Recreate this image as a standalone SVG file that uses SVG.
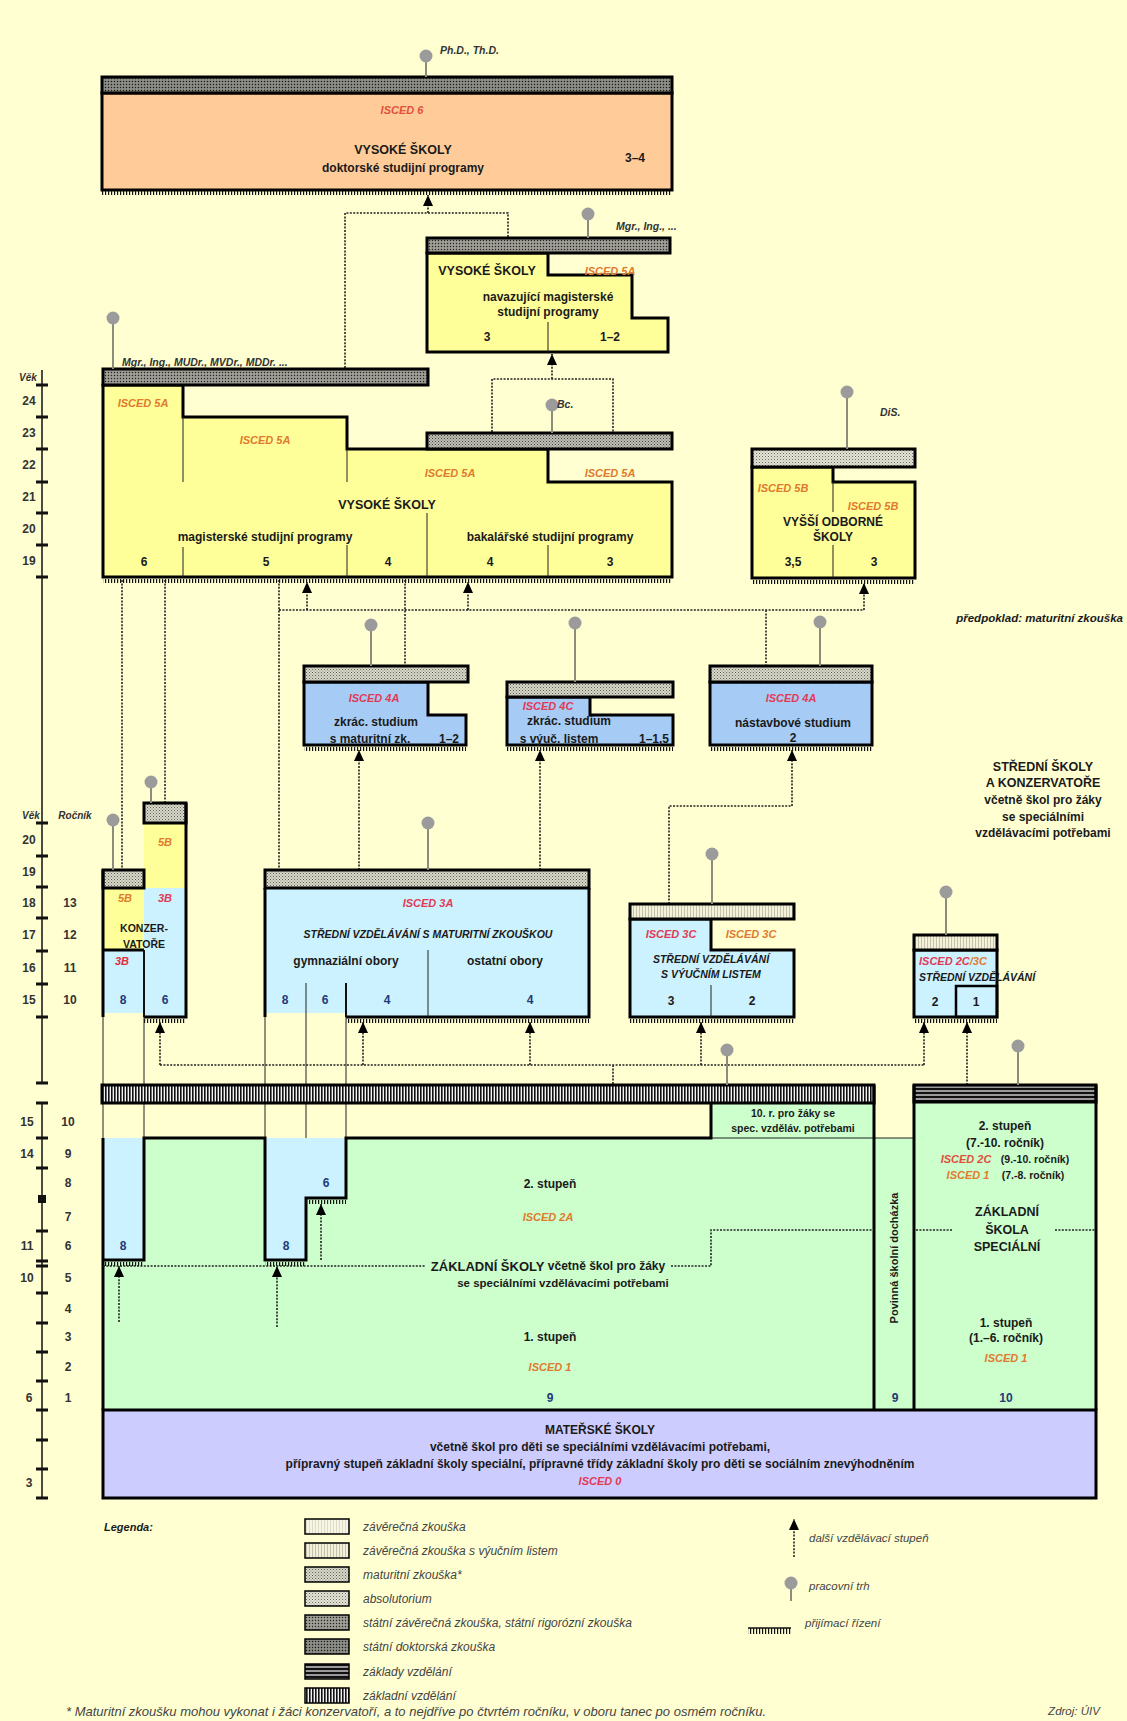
<svg xmlns="http://www.w3.org/2000/svg" width="1127" height="1721" viewBox="0 0 1127 1721">
<defs>
<style>
text{font-family:"Liberation Sans",Arial,sans-serif;font-weight:bold;fill:#1a1a1a;text-anchor:middle;dominant-baseline:central}
.h{font-size:12.5px}
.m{font-size:12px}
.s{font-size:10.5px}
.n{font-size:12px}
.nb{font-size:12px;fill:#1e3a78}
.io{font-size:11px;font-style:italic;fill:#e07a2e}
.ir{font-size:11px;font-style:italic;fill:#e23a55}
.it{font-style:italic}
.deg{font-size:10.5px;font-style:italic;fill:#333;text-anchor:start}
.ax{font-size:12px;fill:#333}
.axl{font-size:10px;font-style:italic;fill:#333}
.leg{font-size:12px;font-style:italic;font-weight:normal;fill:#444;text-anchor:start}
.legr{font-size:11.5px;font-style:italic;font-weight:normal;fill:#444;text-anchor:start}
.bx{stroke:#000;stroke-width:3}
.ol{fill:none;stroke:#000;stroke-width:3}
.th{fill:none;stroke:#222;stroke-width:1}
.md{fill:none;stroke:#111;stroke-width:2}
.dt{fill:none;stroke:#222;stroke-width:1.6;stroke-dasharray:2 1.4}
.ar{fill:none;stroke:#222;stroke-width:1.6;stroke-dasharray:2 1.4;marker-end:url(#arr)}
.stem{stroke:#8c8c7c;stroke-width:2}
.pin{fill:#9b9b9b}
.yl{fill:#ffff99}
.cy{fill:#ccf2ff}
.bl{fill:#a6ccf5}
.gr{fill:#ccffcc}
</style>
<marker id="arr" viewBox="0 0 11 10" refX="11" refY="5" markerWidth="11" markerHeight="10" markerUnits="userSpaceOnUse" orient="auto"><path d="M0,0 L11,5 L0,10 z" fill="#000"/></marker>
<pattern id="pMat" width="3" height="3" patternUnits="userSpaceOnUse"><rect width="3" height="3" fill="#d9d9ca"/><rect width="1" height="1" fill="#5f5f55"/><rect x="1.5" y="1.5" width="1" height="1" fill="#7d7d72"/></pattern>
<pattern id="pAbs" width="3" height="3" patternUnits="userSpaceOnUse"><rect width="3" height="3" fill="#e4e4d6"/><rect width="1" height="1" fill="#6a6a60"/><rect x="1.5" y="1.5" width="1" height="1" fill="#9a9a8e"/></pattern>
<pattern id="pBak" width="3" height="3" patternUnits="userSpaceOnUse"><rect width="3" height="3" fill="#bdbdb2"/><rect width="1" height="1" fill="#444"/><rect x="1.5" y="1.5" width="1" height="1" fill="#666"/></pattern>
<pattern id="pSzz" width="3" height="3" patternUnits="userSpaceOnUse"><rect width="3" height="3" fill="#8d8d86"/><rect width="1" height="1" fill="#222"/><rect x="1.5" y="1.5" width="1" height="1" fill="#d2d2ca"/></pattern>
<pattern id="pDok" width="3" height="3" patternUnits="userSpaceOnUse"><rect width="3" height="3" fill="#7c7c76"/><rect width="1" height="1" fill="#1a1a1a"/><rect x="1.5" y="1.5" width="1" height="1" fill="#c4c4bc"/></pattern>
<pattern id="pVyuc" width="3" height="3" patternUnits="userSpaceOnUse"><rect width="3" height="3" fill="#f3f1da"/><rect width="1" height="3" fill="#c4c2aa"/></pattern>
<pattern id="pZav" width="3" height="3" patternUnits="userSpaceOnUse"><rect width="3" height="3" fill="#f7f6e4"/><rect width="1" height="3" fill="#dedcc6"/></pattern>
<pattern id="pZV" width="3" height="3" patternUnits="userSpaceOnUse"><rect width="3" height="3" fill="#f2f2f2"/><rect width="1.6" height="3" fill="#111"/></pattern>
<pattern id="pZS" width="4" height="4" patternUnits="userSpaceOnUse"><rect width="4" height="4" fill="#9a9a9a"/><rect width="4" height="2" fill="#111"/></pattern>
<pattern id="pComb" width="3" height="5" patternUnits="userSpaceOnUse"><rect width="1.2" height="5" fill="#111"/></pattern>
</defs>

<rect width="1127" height="1721" fill="#ffffd2"/>

<g id="axis">
<path d="M42,370 V1083 M42,1103 V1498" stroke="#111" stroke-width="1.5" fill="none"/>
<path d="M36,385 H48 M36,417 H48 M36,449 H48 M36,482 H48 M36,513 H48 M36,545 H48 M36,577 H48 M36,823 H48 M36,856 H48 M36,887 H48 M36,918 H48 M36,951 H48 M36,984 H48 M36,1017 H48 M36,1083 H48 M36,1103 H48 M36,1138 H48 M36,1168 H48 M36,1231 H48 M36,1261 H48 M36,1266 H48 M36,1293 H48 M36,1323 H48 M36,1352 H48 M36,1381 H48 M36,1410 H48 M36,1440 H48 M36,1469 H48 M36,1498 H48" stroke="#111" stroke-width="3" fill="none"/>
<rect x="38" y="1195" width="8" height="8" fill="#111"/>
<text x="28" y="377" class="axl">Věk</text>
<text x="29" y="401" class="ax">24</text>
<text x="29" y="433" class="ax">23</text>
<text x="29" y="465" class="ax">22</text>
<text x="29" y="497" class="ax">21</text>
<text x="29" y="529" class="ax">20</text>
<text x="29" y="561" class="ax">19</text>
<text x="31" y="815" class="axl">Věk</text>
<text x="75" y="815" class="axl">Ročník</text>
<text x="29" y="840" class="ax">20</text>
<text x="29" y="872" class="ax">19</text>
<text x="29" y="903" class="ax">18</text>
<text x="29" y="935" class="ax">17</text>
<text x="29" y="968" class="ax">16</text>
<text x="29" y="1000" class="ax">15</text>
<text x="70" y="903" class="ax">13</text>
<text x="70" y="935" class="ax">12</text>
<text x="70" y="968" class="ax">11</text>
<text x="70" y="1000" class="ax">10</text>
<text x="27" y="1122" class="ax">15</text>
<text x="27" y="1154" class="ax">14</text>
<text x="27" y="1246" class="ax">11</text>
<text x="27" y="1278" class="ax">10</text>
<text x="29" y="1398" class="ax">6</text>
<text x="29" y="1483" class="ax">3</text>
<text x="68" y="1122" class="ax">10</text>
<text x="68" y="1154" class="ax">9</text>
<text x="68" y="1183" class="ax">8</text>
<text x="68" y="1217" class="ax">7</text>
<text x="68" y="1246" class="ax">6</text>
<text x="68" y="1278" class="ax">5</text>
<text x="68" y="1309" class="ax">4</text>
<text x="68" y="1337" class="ax">3</text>
<text x="68" y="1367" class="ax">2</text>
<text x="68" y="1398" class="ax">1</text>
</g>

<g id="connectors">
<path class="dt" d="M345,368 V213 H508 V238"/>
<path class="ar" d="M428,213 V195"/>
<path class="dt" d="M492,432 V379 H613 V432"/>
<path class="ar" d="M552,379 V354"/>
<path class="dt" d="M279,580 V870 M405,580 V667 M279,610 H864 M766,610 V667 M122,580 V870 M165,580 V803"/>
<path class="ar" d="M307,610 V582"/>
<path class="ar" d="M468,610 V582"/>
<path class="ar" d="M864,610 V583"/>
<path class="ar" d="M359,870 V750"/>
<path class="ar" d="M540,870 V750"/>
<path class="dt" d="M669,904 V806 H792"/>
<path class="ar" d="M792,806 V750"/>
<path class="dt" d="M160,1065 H924 M613,1065 V1085"/>
<path class="ar" d="M160,1065 V1022"/>
<path class="ar" d="M363,1065 V1022"/>
<path class="ar" d="M530,1065 V1022"/>
<path class="ar" d="M701,1065 V1022"/>
<path class="ar" d="M924,1065 V1022"/>
<path class="ar" d="M967,1085 V1022"/>
</g>

<g id="isced6">
<rect x="102" y="93" width="570" height="97" fill="#ffcc99" class="bx"/>
<rect x="102" y="77" width="570" height="16" fill="url(#pDok)" class="bx"/>
<rect x="102" y="191" width="570" height="4" fill="url(#pComb)"/>
<line x1="426" y1="62" x2="426" y2="77" class="stem"/>
<circle cx="426" cy="56" r="6.5" class="pin"/>
<text x="440" y="50" class="deg">Ph.D., Th.D.</text>
<text x="402" y="110" class="ir" style="fill:#e2503c">ISCED 6</text>
<text x="403" y="150" class="h">VYSOKÉ ŠKOLY</text>
<text x="403" y="168" class="m">doktorské studijní programy</text>
<text x="635" y="158" class="n">3–4</text>
</g>

<g id="vs-navazujici">
<path class="yl bx" d="M427,253 H548 V275 H632 V318 H668 V352 H427 Z"/>
<rect x="427" y="238" width="243" height="15" fill="url(#pSzz)" class="bx"/>
<path class="th" d="M548,322 V352"/>
<line x1="588" y1="220" x2="588" y2="238" class="stem"/>
<circle cx="588" cy="214" r="6.5" class="pin"/>
<text x="616" y="226" class="deg">Mgr., Ing., ...</text>
<text x="487" y="271" class="h">VYSOKÉ ŠKOLY</text>
<text x="610" y="271" class="io">ISCED 5A</text>
<text x="548" y="297" class="m">navazující magisterské</text>
<text x="548" y="312" class="m">studijní programy</text>
<text x="487" y="337" class="n">3</text>
<text x="610" y="337" class="n">1–2</text>
</g>

<g id="vs-mag-bak">
<path class="yl bx" d="M103,385 H183 V417 H347 V449 H548 V482 H672 V577 H103 Z"/>
<rect x="103" y="369" width="325" height="16" fill="url(#pSzz)" class="bx"/>
<rect x="427" y="433" width="245" height="16" fill="url(#pBak)" class="bx"/>
<rect x="103" y="579" width="569" height="4" fill="url(#pComb)"/>
<path class="th" d="M183,417 V482 M183,547 V577 M347,449 V482 M347,545 V577 M427,513 V577 M548,545 V577"/>
<line x1="113" y1="324" x2="113" y2="369" class="stem"/>
<circle cx="113" cy="318" r="6.5" class="pin"/>
<text x="122" y="362" class="deg">Mgr., Ing., MUDr., MVDr., MDDr. ...</text>
<line x1="552" y1="411" x2="552" y2="433" class="stem"/>
<circle cx="552" cy="405" r="6.5" class="pin"/>
<text x="557" y="404" class="deg">Bc.</text>
<text x="143" y="403" class="io">ISCED 5A</text>
<text x="265" y="440" class="io">ISCED 5A</text>
<text x="450" y="473" class="io">ISCED 5A</text>
<text x="610" y="473" class="io">ISCED 5A</text>
<text x="387" y="505" class="h">VYSOKÉ ŠKOLY</text>
<text x="265" y="537" class="m">magisterské studijní programy</text>
<text x="550" y="537" class="m">bakalářské studijní programy</text>
<text x="144" y="562" class="n">6</text>
<text x="266" y="562" class="n">5</text>
<text x="388" y="562" class="n">4</text>
<text x="490" y="562" class="n">4</text>
<text x="610" y="562" class="n">3</text>
</g>

<g id="vos">
<path class="yl bx" d="M752,467 H833 V482 H915 V578 H752 Z"/>
<rect x="752" y="449" width="163" height="18" fill="url(#pAbs)" class="bx"/>
<rect x="752" y="580" width="163" height="4" fill="url(#pComb)"/>
<path class="th" d="M833,482 V512 M833,545 V578"/>
<line x1="847" y1="398" x2="847" y2="449" class="stem"/>
<circle cx="847" cy="392" r="6.5" class="pin"/>
<text x="880" y="412" class="deg">DiS.</text>
<text x="783" y="488" class="io">ISCED 5B</text>
<text x="873" y="506" class="io">ISCED 5B</text>
<text x="833" y="522" class="m">VYŠŠÍ ODBORNÉ</text>
<text x="833" y="537" class="m">ŠKOLY</text>
<text x="793" y="562" class="n">3,5</text>
<text x="874" y="562" class="n">3</text>
</g>

<text x="1123" y="618" class="m it" style="text-anchor:end;font-size:11.5px">předpoklad: maturitní zkouška</text>

<g id="zkrac-maturitni">
<path class="bl bx" d="M304,682 H428 V715 H466 V745 H304 Z"/>
<rect x="304" y="666" width="164" height="16" fill="url(#pMat)" class="bx"/>
<rect x="304" y="747" width="162" height="4" fill="url(#pComb)"/>
<line x1="371" y1="631" x2="371" y2="666" class="stem"/>
<circle cx="371" cy="625" r="6.5" class="pin"/>
<text x="374" y="698" class="ir">ISCED 4A</text>
<text x="376" y="722" class="m">zkrác. studium</text>
<text x="370" y="739" class="m">s maturitní zk.</text>
<text x="449" y="739" class="n">1–2</text>
</g>

<g id="zkrac-vyucni">
<path class="bl bx" d="M507,697 H590 V715 H673 V745 H507 Z"/>
<rect x="507" y="682" width="166" height="15" fill="url(#pMat)" class="bx"/>
<rect x="507" y="747" width="166" height="4" fill="url(#pComb)"/>
<line x1="575" y1="629" x2="575" y2="682" class="stem"/>
<circle cx="575" cy="623" r="6.5" class="pin"/>
<text x="548" y="706" class="ir">ISCED 4C</text>
<text x="569" y="721" class="m">zkrác. studium</text>
<text x="559" y="739" class="m">s výuč. listem</text>
<text x="654" y="739" class="n">1–1,5</text>
</g>

<g id="nastavbove">
<rect x="710" y="682" width="162" height="63" class="bl bx"/>
<rect x="710" y="666" width="162" height="16" fill="url(#pMat)" class="bx"/>
<rect x="710" y="747" width="162" height="4" fill="url(#pComb)"/>
<line x1="820" y1="628" x2="820" y2="666" class="stem"/>
<circle cx="820" cy="622" r="6.5" class="pin"/>
<text x="791" y="698" class="ir">ISCED 4A</text>
<text x="793" y="723" class="m">nástavbové studium</text>
<text x="793" y="738" class="n">2</text>
</g>

<g id="ss-label">
<text x="1043" y="767" class="h">STŘEDNÍ ŠKOLY</text>
<text x="1043" y="783" class="h">A KONZERVATOŘE</text>
<text x="1043" y="800" class="m">včetně škol pro žáky</text>
<text x="1043" y="817" class="m">se speciálními</text>
<text x="1043" y="833" class="m">vzdělávacími potřebami</text>
</g>

<g id="konzervatore">
<rect x="103" y="888" width="41" height="62" class="yl"/>
<rect x="103" y="950" width="41" height="63" class="cy"/>
<rect x="144" y="823" width="42" height="65" class="yl"/>
<rect x="144" y="888" width="42" height="129" class="cy"/>
<rect x="103" y="870" width="41" height="18" fill="url(#pMat)" class="bx"/>
<rect x="144" y="803" width="42" height="20" fill="url(#pMat)" class="bx"/>
<path class="ol" d="M103,1017 V870 M186,803 V1017 H144 M103,950 H144"/>
<path class="md" d="M144,950 V1017"/>
<rect x="144" y="1019" width="42" height="4" fill="url(#pComb)"/>
<line x1="113" y1="826" x2="113" y2="870" class="stem"/>
<circle cx="113" cy="820" r="6.5" class="pin"/>
<line x1="151" y1="788" x2="151" y2="803" class="stem"/>
<circle cx="151" cy="782" r="6.5" class="pin"/>
<text x="165" y="842" class="io">5B</text>
<text x="125" y="898" class="io">5B</text>
<text x="165" y="898" class="ir">3B</text>
<text x="144" y="928" class="s">KONZER-</text>
<text x="144" y="944" class="s">VATOŘE</text>
<text x="122" y="961" class="ir" style="fill:#e22a3a">3B</text>
<text x="123" y="1000" class="nb">8</text>
<text x="165" y="1000" class="nb">6</text>
</g>

<g id="ss-maturita">
<rect x="265" y="888" width="324" height="125" class="cy"/>
<rect x="346" y="1013" width="243" height="4" class="cy"/>
<rect x="265" y="870" width="324" height="18" fill="url(#pMat)" class="bx"/>
<path class="ol" d="M265,1017 V888 M589,888 V1017 H346"/>
<path class="md" d="M346,983 V1017"/>
<path class="th" d="M428,950 V1017"/>
<rect x="346" y="1019" width="243" height="4" fill="url(#pComb)"/>
<line x1="428" y1="829" x2="428" y2="870" class="stem"/>
<circle cx="428" cy="823" r="6.5" class="pin"/>
<text x="428" y="903" class="ir">ISCED 3A</text>
<text x="428" y="934" class="s it">STŘEDNÍ VZDĚLÁVÁNÍ S MATURITNÍ ZKOUŠKOU</text>
<text x="346" y="961" class="m">gymnaziální obory</text>
<text x="505" y="961" class="m">ostatní obory</text>
<text x="285" y="1000" class="nb">8</text>
<text x="325" y="1000" class="nb">6</text>
<text x="387" y="1000" class="nb">4</text>
<text x="530" y="1000" class="nb">4</text>
</g>

<g id="ss-vyucni">
<path class="cy bx" d="M630,919 H711 V950 H794 V1017 H630 Z"/>
<rect x="630" y="904" width="164" height="15" fill="url(#pVyuc)" class="bx"/>
<path class="th" d="M711,985 V1017"/>
<rect x="630" y="1019" width="164" height="4" fill="url(#pComb)"/>
<line x1="712" y1="860" x2="712" y2="904" class="stem"/>
<circle cx="712" cy="854" r="6.5" class="pin"/>
<text x="671" y="934" class="ir">ISCED 3C</text>
<text x="751" y="934" class="io">ISCED 3C</text>
<text x="711" y="959" class="s it">STŘEDNÍ VZDĚLÁVÁNÍ</text>
<text x="711" y="974" class="s it">S VÝUČNÍM LISTEM</text>
<text x="671" y="1001" class="n">3</text>
<text x="752" y="1001" class="n">2</text>
</g>

<g id="ss-2c3c">
<rect x="914" y="950" width="83" height="67" class="cy bx"/>
<rect x="914" y="935" width="83" height="15" fill="url(#pVyuc)" class="bx"/>
<rect x="956" y="986" width="41" height="31" fill="none" stroke="#000" stroke-width="2.5"/>
<rect x="914" y="1019" width="83" height="4" fill="url(#pComb)"/>
<line x1="946" y1="898" x2="946" y2="935" class="stem"/>
<circle cx="946" cy="892" r="6.5" class="pin"/>
<text x="919" y="961" class="ir" style="text-anchor:start">ISCED 2C<tspan style="fill:#e07a2e">/3C</tspan></text>
<text x="919" y="977" class="s it" style="text-anchor:start">STŘEDNÍ VZDĚLÁVÁNÍ</text>
<text x="935" y="1002" class="n">2</text>
<text x="976" y="1002" class="n">1</text>
</g>

<g id="zakladni-skoly">
<rect x="103" y="1138" width="993" height="272" class="gr"/>
<rect x="711" y="1103" width="163" height="35" class="gr"/>
<rect x="914" y="1102" width="182" height="36" class="gr"/>
<rect x="103" y="1138" width="41" height="122" class="cy"/>
<rect x="265" y="1138" width="41" height="122" class="cy"/>
<rect x="306" y="1138" width="40" height="60" class="cy"/>
<path class="th" d="M103,1017 V1138 M144,1017 V1138 M265,1017 V1138 M306,983 V1138 M346,1017 V1138 M711,1138 H914"/>
<rect x="102" y="1085" width="772" height="18" fill="url(#pZV)" class="bx"/>
<rect x="914" y="1085" width="182" height="17" fill="url(#pZS)" class="bx"/>
<path class="ol" d="M103,1410 V1138 M103,1260 H144 V1138 H265 V1260 H306 V1198 H346 V1138 H711 V1103 M874,1085 V1410 M914,1085 V1410 M1096,1085 V1410"/>
<rect x="103" y="1262" width="41" height="4" fill="url(#pComb)"/>
<rect x="265" y="1262" width="41" height="4" fill="url(#pComb)"/>
<rect x="306" y="1200" width="40" height="4" fill="url(#pComb)"/>
<path class="ar" d="M119,1322 V1266"/>
<path class="ar" d="M277,1327 V1266"/>
<path class="ar" d="M321,1260 V1204"/>
<path class="dt" d="M103,1266 H425 M671,1266 H711 V1230 H874 M916,1230 H953 M1055,1230 H1096"/>
<line x1="727" y1="1056" x2="727" y2="1085" class="stem"/>
<circle cx="727" cy="1050" r="6.5" class="pin"/>
<line x1="1018" y1="1052" x2="1018" y2="1085" class="stem"/>
<circle cx="1018" cy="1046" r="6.5" class="pin"/>
<text x="123" y="1246" class="nb">8</text>
<text x="286" y="1246" class="nb">8</text>
<text x="326" y="1183" class="nb">6</text>
<text x="793" y="1113" class="s">10. r. pro žáky se</text>
<text x="793" y="1128" class="s">spec. vzděláv. potřebami</text>
<text x="550" y="1184" class="m">2. stupeň</text>
<text x="548" y="1217" class="io">ISCED 2A</text>
<text x="548" y="1266" class="m"><tspan style="font-size:13px">ZÁKLADNÍ ŠKOLY</tspan> včetně škol pro žáky</text>
<text x="563" y="1283" class="m" style="font-size:11.5px">se speciálními vzdělávacími potřebami</text>
<text x="550" y="1337" class="m">1. stupeň</text>
<text x="550" y="1367" class="io">ISCED 1</text>
<text x="550" y="1398" class="nb">9</text>
<text transform="translate(894,1258) rotate(-90)" class="s" style="font-size:11px">Povinná školní docházka</text>
<text x="895" y="1398" class="nb">9</text>
</g>

<g id="zs-specialni">
<text x="1005" y="1126" class="m">2. stupeň</text>
<text x="1005" y="1143" class="m">(7.-10. ročník)</text>
<text x="966" y="1159" class="ir" style="fill:#e2503c">ISCED 2C</text>
<text x="1035" y="1159" class="s">(9.-10. ročník)</text>
<text x="968" y="1175" class="io">ISCED 1</text>
<text x="1033" y="1175" class="s">(7.-8. ročník)</text>
<text x="1007" y="1212" class="h">ZÁKLADNÍ</text>
<text x="1007" y="1230" class="h">ŠKOLA</text>
<text x="1007" y="1247" class="h">SPECIÁLNÍ</text>
<text x="1006" y="1323" class="m">1. stupeň</text>
<text x="1006" y="1338" class="m">(1.–6. ročník)</text>
<text x="1006" y="1358" class="io">ISCED 1</text>
<text x="1006" y="1398" class="nb">10</text>
</g>

<g id="materske-skoly">
<rect x="103" y="1410" width="993" height="88" fill="#ccccff" class="bx"/>
<text x="600" y="1430" class="m">MATEŘSKÉ ŠKOLY</text>
<text x="600" y="1447" class="m">včetně škol pro děti se speciálními vzdělávacími potřebami,</text>
<text x="600" y="1464" class="m">přípravný stupeň základní školy speciální, přípravné třídy základní školy pro děti se sociálním znevýhodněním</text>
<text x="600" y="1481" class="ir">ISCED 0</text>
</g>

<g id="legend">
<text x="104" y="1527" class="m it" style="text-anchor:start;font-size:11px">Legenda:</text>
<rect x="305" y="1519" width="44" height="15" fill="url(#pZav)" stroke="#000" stroke-width="1.5"/>
<rect x="305" y="1543" width="44" height="15" fill="url(#pVyuc)" stroke="#000" stroke-width="1.5"/>
<rect x="305" y="1567" width="44" height="15" fill="url(#pMat)" stroke="#000" stroke-width="1.5"/>
<rect x="305" y="1591" width="44" height="15" fill="url(#pAbs)" stroke="#000" stroke-width="1.5"/>
<rect x="305" y="1615" width="44" height="15" fill="url(#pSzz)" stroke="#000" stroke-width="1.5"/>
<rect x="305" y="1639" width="44" height="15" fill="url(#pDok)" stroke="#000" stroke-width="1.5"/>
<rect x="305" y="1664" width="44" height="15" fill="url(#pZS)" stroke="#000" stroke-width="1.5"/>
<rect x="305" y="1688" width="44" height="15" fill="url(#pZV)" stroke="#000" stroke-width="1.5"/>
<text x="363" y="1527" class="leg">závěrečná zkouška</text>
<text x="363" y="1551" class="leg">závěrečná zkouška s výučním listem</text>
<text x="363" y="1575" class="leg">maturitní zkouška*</text>
<text x="363" y="1599" class="leg">absolutorium</text>
<text x="363" y="1623" class="leg">státní závěrečná zkouška, státní rigorózní zkouška</text>
<text x="363" y="1647" class="leg">státní doktorská zkouška</text>
<text x="363" y="1672" class="leg">základy vzdělání</text>
<text x="363" y="1696" class="leg">základní vzdělání</text>
<path class="ar" d="M794,1557 V1519"/>
<text x="809" y="1538" class="legr">další vzdělávací stupeň</text>
<line x1="791" y1="1589" x2="791" y2="1601" class="stem"/>
<circle cx="791" cy="1583" r="6.5" class="pin"/>
<text x="809" y="1586" class="legr">pracovní trh</text>
<line x1="748" y1="1628" x2="791" y2="1628" stroke="#111" stroke-width="1.5"/>
<rect x="748" y="1628" width="43" height="6" fill="url(#pComb)"/>
<text x="805" y="1623" class="legr">přijímací řízení</text>
<text x="66" y="1711" class="leg" style="font-size:13px">* Maturitní zkoušku mohou vykonat i žáci konzervatoří, a to nejdříve po čtvrtém ročníku, v oboru tanec po osmém ročníku.</text>
<text x="1074" y="1711" class="legr" style="text-anchor:middle">Zdroj: ÚIV</text>
</g>
</svg>
